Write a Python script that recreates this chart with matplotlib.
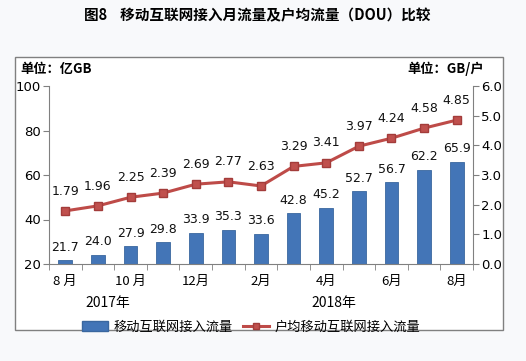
import matplotlib.pyplot as plt
import matplotlib.patches as mpatches
from matplotlib.lines import Line2D
import numpy as np

plt.rcParams['font.family'] = ['Noto Sans CJK SC', 'DejaVu Sans']

months = ["8 月", "9月", "10 月", "11月", "12月", "1月", "2月", "3月",
          "4月", "5月", "6月", "7月", "8月"]
traffic = [21.7, 24.0, 27.9, 29.8, 33.9, 35.3, 33.6, 42.8, 45.2, 52.7, 56.7, 62.2, 65.9]
dou = [1.79, 1.96, 2.25, 2.39, 2.69, 2.77, 2.63, 3.29, 3.41, 3.97, 4.24, 4.58, 4.85]

bar_color = "#4375b7"
line_color = "#be4b48"

fig = plt.figure(figsize=(5.26, 3.61), dpi=100)
fig.patch.set_facecolor("#f8f9fb")

# chart frame
frame = mpatches.Rectangle((15 / 526, 1 - 330 / 361), 488 / 526, 273 / 361,
                           transform=fig.transFigure, facecolor="white",
                           edgecolor="#808080", linewidth=1.0, zorder=-5)
fig.add_artist(frame)

ax = fig.add_axes([49 / 526, 1 - 264 / 361, 424 / 526, 178 / 361])
ax.set_zorder(1)
ax.set_facecolor("none")
x = np.arange(len(months))
ax.bar(x, np.array(traffic) - 20, bottom=20, width=0.42, color=bar_color,
       edgecolor="#3a679f", linewidth=0.6, zorder=2)
for xi, v in zip(x, traffic):
    ax.text(xi, v + 3, f"{v:.1f}", ha="center", va="bottom", fontsize=9,
            family="DejaVu Sans", color="#111111")

ax.set_xlim(-0.5, len(months) - 0.5)
ax.set_ylim(20, 100)
ax.set_yticks(range(20, 101, 20))
ax.set_xticks(x[::2])
ax.set_xticklabels(months[::2], fontsize=9.5)
ax.set_xticks(np.arange(-0.5, len(months), 1), minor=True)
ax.tick_params(axis="x", which="major", length=0, pad=8)
ax.tick_params(axis="x", which="minor", length=4, color="#808080", direction="out")
ax.tick_params(axis="y", length=4, color="#808080", labelsize=9.5, pad=2)
for lbl in ax.get_yticklabels():
    lbl.set_family("DejaVu Sans")
for s in ["top", "right"]:
    ax.spines[s].set_visible(False)
for s in ["left", "bottom"]:
    ax.spines[s].set_color("#808080")

ax2 = ax.twinx()
ax2.set_zorder(2)
ax2.plot(x, dou, color=line_color, linewidth=2.2, marker="s", markersize=6,
         markerfacecolor="#c0504d", markeredgecolor="#a33c3a", zorder=3)
for xi, v in zip(x, dou):
    ax2.text(xi, v + 0.45, f"{v:.2f}", ha="center", va="bottom", fontsize=9,
             family="DejaVu Sans", color="#111111")
ax2.set_ylim(0, 6)
ax2.set_yticks(np.arange(0, 6.1, 1))
ax2.set_yticklabels([f"{t:.1f}" for t in np.arange(0, 6.1, 1)], family="DejaVu Sans")
ax2.tick_params(axis="y", length=4, color="#808080", labelsize=9.5, pad=2)
for s in ["top", "left", "bottom"]:
    ax2.spines[s].set_visible(False)
ax2.spines["right"].set_color("#808080")

fig.text(0.49, 1 - 15 / 361, "图8    移动互联网接入月流量及户均流量（DOU）比较",
         ha="center", va="center", fontsize=10.5, fontweight="bold")
fig.text(20 / 526, 1 - 69 / 361, "单位：亿GB", ha="left", va="center",
         fontsize=9.5, fontweight="bold")
fig.text(484 / 526, 1 - 69 / 361, "单位：GB/户", ha="right", va="center",
         fontsize=9.5, fontweight="bold")
fig.text(108 / 526, 1 - 303 / 361, "2017年", ha="center", va="center", fontsize=10)
fig.text(334 / 526, 1 - 303 / 361, "2018年", ha="center", va="center", fontsize=10)

handles = [mpatches.Patch(facecolor=bar_color, edgecolor="#3a679f"),
           Line2D([], [], color=line_color, linewidth=2.2, marker="s", markersize=5,
                  markerfacecolor="#c0504d", markeredgecolor="#a33c3a")]
fig.legend(handles, ["移动互联网接入流量", "户均移动互联网接入流量"],
           loc="center", bbox_to_anchor=(251 / 526, 1 - 327 / 361), ncol=2,
           frameon=False, fontsize=9.5, handlelength=2.0, handletextpad=0.4,
           columnspacing=0.8)

fig.savefig("out.png", dpi=100, facecolor=fig.get_facecolor())
